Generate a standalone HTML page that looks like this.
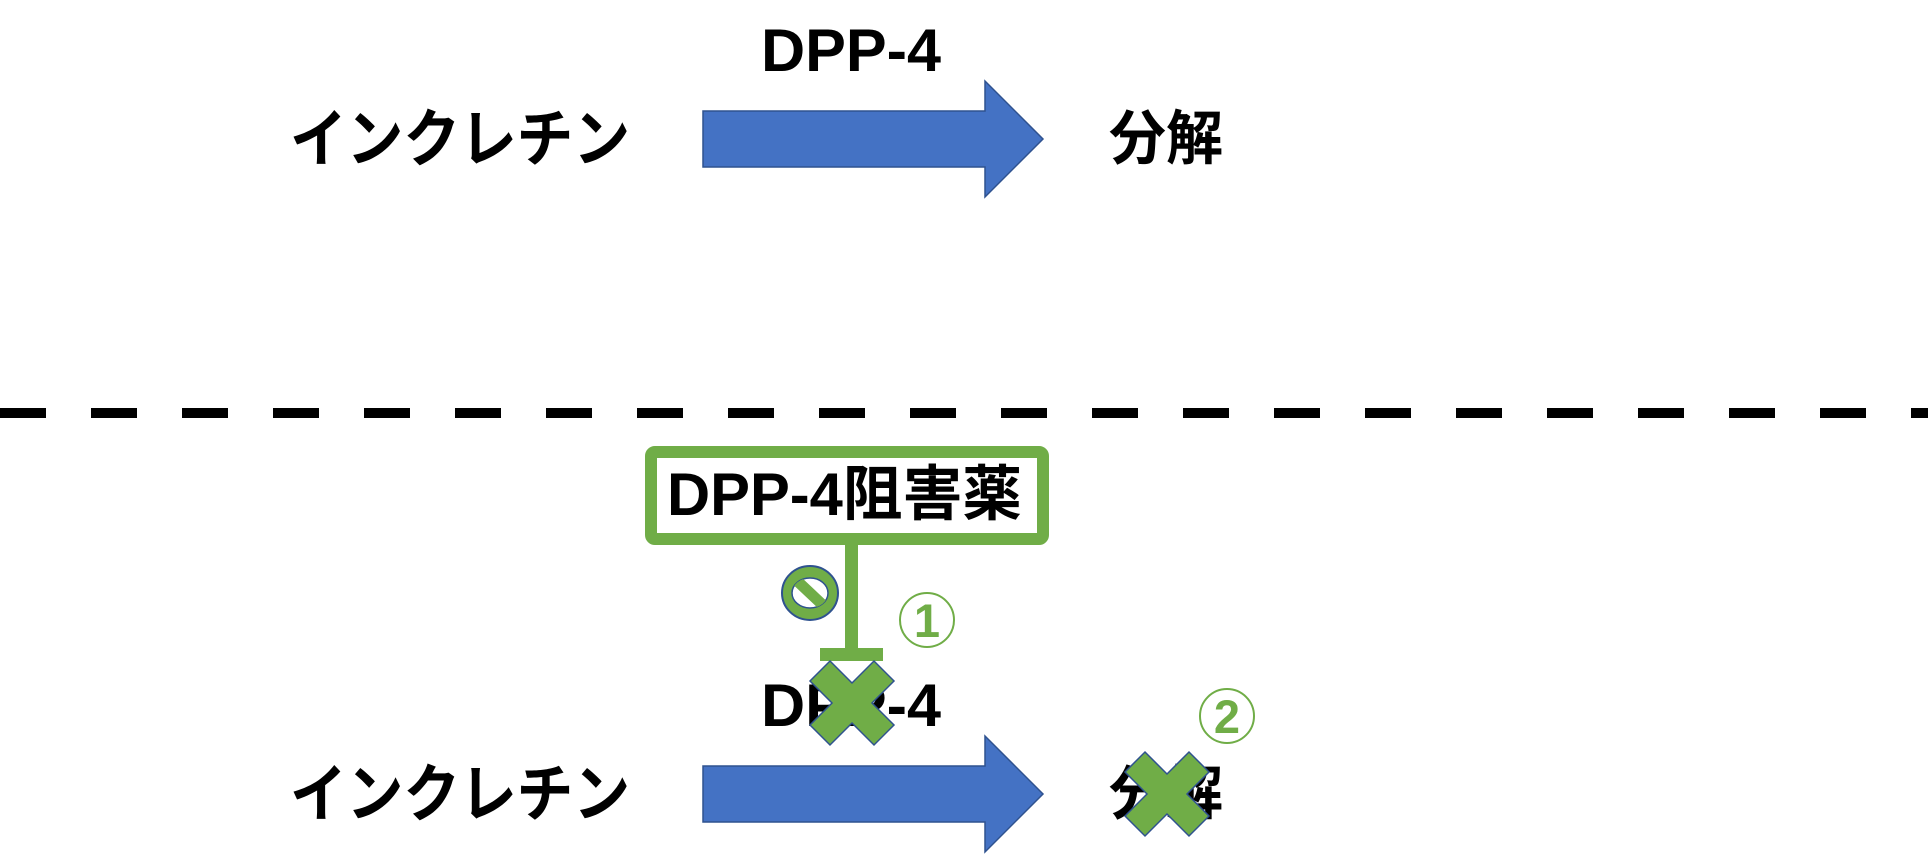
<!DOCTYPE html>
<html><head><meta charset="utf-8"><style>
html,body{margin:0;padding:0;background:#fff;}
svg{display:block;}
text{font-family:"Liberation Sans","Noto Sans CJK JP",sans-serif;font-weight:bold;fill:#000;}
</style></head><body>
<svg width="1928" height="866" viewBox="0 0 1928 866" xmlns="http://www.w3.org/2000/svg">
<defs>
<clipPath id="inner"><ellipse cx="810" cy="593" rx="18" ry="15"/></clipPath>
</defs>
<!-- top row -->
<text x="290" y="161" font-size="63" textLength="340" lengthAdjust="spacingAndGlyphs">インクレチン</text>
<text x="761" y="71" font-size="60" textLength="180" lengthAdjust="spacingAndGlyphs">DPP-4</text>
<polygon points="703,111 985,111 985,81 1043,139 985,197 985,167 703,167" fill="#4472C4" stroke="#2F528F" stroke-width="1.5"/>
<text x="1109" y="159" font-size="59" textLength="114" lengthAdjust="spacingAndGlyphs">分解</text>

<!-- dashed line -->
<line x1="0" y1="413" x2="1928" y2="413" stroke="#000" stroke-width="10" stroke-dasharray="46 45"/>

<!-- inhibitor box -->
<rect x="651" y="452" width="392" height="87" rx="4" fill="#fff" stroke="#70AD47" stroke-width="12"/>
<text x="667" y="515" font-size="60" textLength="355" lengthAdjust="spacingAndGlyphs">DPP-4阻害薬</text>
<rect x="845" y="545" width="13" height="104" fill="#70AD47"/>
<rect x="820" y="648" width="63" height="13" fill="#70AD47"/>

<!-- prohibit icon -->
<ellipse cx="810" cy="593" rx="28" ry="27" fill="#70AD47" stroke="#2F528F" stroke-width="2"/>
<ellipse cx="810" cy="593" rx="18" ry="15" fill="#fff" stroke="#2F528F" stroke-width="1.5"/>
<g clip-path="url(#inner)"><line x1="792" y1="576" x2="828" y2="610" stroke="#70AD47" stroke-width="11"/></g>

<!-- circled 1 -->
<circle cx="927" cy="620" r="27" fill="none" stroke="#70AD47" stroke-width="2"/>
<text x="927" y="637" font-size="47" text-anchor="middle" style="fill:#70AD47">1</text>

<!-- bottom row -->
<text x="290" y="816" font-size="63" textLength="340" lengthAdjust="spacingAndGlyphs">インクレチン</text>
<text x="761" y="726" font-size="60" textLength="180" lengthAdjust="spacingAndGlyphs">DPP-4</text>
<polygon points="703,766 985,766 985,736 1043,794 985,852 985,822 703,822" fill="#4472C4" stroke="#2F528F" stroke-width="1.5"/>
<text x="1109" y="814" font-size="59" textLength="114" lengthAdjust="spacingAndGlyphs">分解</text>

<!-- X marks -->
<polygon transform="translate(810,661)" points="20,0 42,22 64,0 84,20 62,42 84,64 64,84 42,62 20,84 0,64 22,42 0,20" fill="#70AD47" stroke="#2F528F" stroke-width="1.5"/>
<polygon transform="translate(1125,752)" points="20,0 42,22 64,0 84,20 62,42 84,64 64,84 42,62 20,84 0,64 22,42 0,20" fill="#70AD47" stroke="#2F528F" stroke-width="1.5"/>

<!-- circled 2 -->
<circle cx="1227" cy="716" r="27" fill="none" stroke="#70AD47" stroke-width="2"/>
<text x="1227" y="733" font-size="47" text-anchor="middle" style="fill:#70AD47">2</text>
</svg>
</body></html>
